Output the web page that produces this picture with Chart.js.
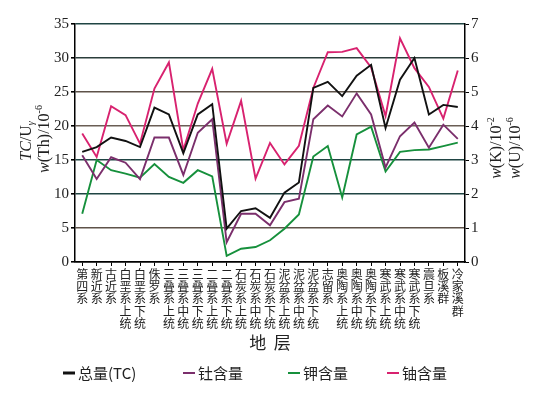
<!DOCTYPE html>
<html>
<head>
<meta charset="utf-8">
<script src="https://cdn.jsdelivr.net/npm/chart.js@4.4.1/dist/chart.umd.min.js"></script>
<style>
  html, body { margin: 0; padding: 0; background: #fff; }
  #wrap { width: 548px; height: 394px; }
</style>
</head>
<body>
<div id="wrap"><canvas id="lineChart" width="548" height="394"></canvas></div>
<script>
// 地层
const categories = ["第四系", "新近系", "古近系", "白垩系上统", "白垩系下统", "侏罗系",
  "三叠系上统", "三叠系中统", "三叠系下统", "二叠系上统", "二叠系下统",
  "石炭系上统", "石炭系中统", "石炭系下统", "泥盆系上统", "泥盆系中统", "泥盆系下统",
  "志留系", "奥陶系上统", "奥陶系中统", "奥陶系下统", "寒武系上统", "寒武系中统", "寒武系下统",
  "震旦系", "板溪群", "冷家溪群"];

// left axis (TC/Uγ, Th 10^-6)
const tcValues = [16.2, 16.9, 18.3, 17.8, 16.9, 22.7, 21.7, 16.0, 21.7, 23.2, 4.9, 7.5, 7.9, 6.5,
  10.2, 11.7, 25.6, 26.5, 24.4, 27.4, 29.0, 19.7, 26.8, 30.0, 21.7, 23.1, 22.8];
const thValues = [15.7, 12.2, 15.4, 14.6, 12.2, 18.3, 18.3, 12.8, 19.0, 21.0, 2.9, 7.1, 7.1, 5.4,
  8.8, 9.3, 21.0, 23.0, 21.4, 24.8, 21.7, 13.9, 18.5, 20.5, 16.8, 20.2, 18.1];
// right axis (K 10^-2, U 10^-6)
const kValues = [1.42, 3.0, 2.7, 2.6, 2.48, 2.88, 2.5, 2.33, 2.7, 2.52, 0.18, 0.39, 0.44, 0.64,
  0.98, 1.4, 3.1, 3.41, 1.9, 3.75, 3.98, 2.66, 3.24, 3.29, 3.31, 3.41, 3.51];
const uValues = [3.78, 3.09, 4.58, 4.32, 3.48, 5.1, 5.87, 3.29, 4.66, 5.68, 3.48, 4.74, 2.45, 3.5,
  2.87, 3.42, 5.12, 6.17, 6.18, 6.29, 5.72, 4.29, 6.58, 5.7, 5.15, 4.22, 5.63];

const seriesNames = ["总量(TC)", "钍含量", "钾含量", "铀含量"];
const leftMax = 35, rightMax = 7;

const serif = '"Liberation Serif", "Times New Roman", serif';
const cjk = '"Noto Sans CJK SC", sans-serif';

// rotated axis title with italic / super / subscript pieces
function drawRich(ctx, parts, cx, cy, size) {
  ctx.save();
  ctx.translate(cx, cy);
  ctx.rotate(-Math.PI / 2);
  const fontFor = p => (p.i ? "italic " : "") + ((p.sup || p.sub) ? Math.round(size * 0.62) : size) + "px " + serif;
  let total = 0;
  parts.forEach(p => { ctx.font = fontFor(p); p.w = ctx.measureText(p.t).width; total += p.w; });
  let x = -total / 2;
  ctx.textBaseline = "middle";
  ctx.fillStyle = "#222";
  parts.forEach(p => {
    ctx.font = fontFor(p);
    const dy = p.sup ? -size * 0.38 : p.sub ? size * 0.3 : 0;
    ctx.fillText(p.t, x, dy);
    x += p.w;
  });
  ctx.restore();
}

// axis titles + legend row under the x title
const legendX = [63, 183, 288, 387];
const extras = {
  id: "extras",
  afterDraw(chart) {
    const ctx = chart.ctx;
    drawRich(ctx, [{ t: "TC", i: true }, { t: "/U" }, { t: "γ", i: true, sub: true }], 27, 141, 16);
    drawRich(ctx, [{ t: "w", i: true }, { t: "(Th)/10" }, { t: "-6", sup: true }], 45, 139, 16);
    drawRich(ctx, [{ t: "w", i: true }, { t: "(K)/10" }, { t: "-2", sup: true }], 497, 148, 16);
    drawRich(ctx, [{ t: "w", i: true }, { t: "(U)/10" }, { t: "-6", sup: true }], 516, 148, 16);

    const y = 373;
    ctx.save();
    chart.data.datasets.forEach((ds, i) => {
      const x = legendX[i];
      ctx.strokeStyle = ds.borderColor;
      ctx.lineWidth = i === 0 ? 3 : 2;
      ctx.beginPath();
      ctx.moveTo(x, y);
      ctx.lineTo(x + 12, y);
      ctx.stroke();
      ctx.fillStyle = "#222";
      ctx.font = "15px " + cjk;
      ctx.textBaseline = "middle";
      ctx.fillText(ds.label, x + 15, y);
    });
    ctx.restore();
  }
};

const gridColors = ["#000", "#5e5249", "#1f4443", "#1f4443", "#6a5e55", "#5e5249", "#2b3d3b", "#1f4443"];

let ctx = document.getElementById("lineChart").getContext("2d");
let myChart = new Chart(ctx, {
  type: "line",
  data: {
    labels: categories.map(s => s.split("")),
    datasets: [
      { label: seriesNames[0], data: tcValues, yAxisID: "y", borderColor: "#111", backgroundColor: "#111" },
      { label: seriesNames[1], data: thValues, yAxisID: "y", borderColor: "#7b2f6c", backgroundColor: "#7b2f6c" },
      { label: seriesNames[2], data: kValues, yAxisID: "y1", borderColor: "#16903c", backgroundColor: "#16903c" },
      { label: seriesNames[3], data: uValues, yAxisID: "y1", borderColor: "#d8226f", backgroundColor: "#d8226f" }
    ]
  },
  options: {
    responsive: false,
    animation: false,
    devicePixelRatio: 1,
    layout: { padding: { top: 24, left: 0, right: 34, bottom: 39 } },
    elements: {
      line: { borderWidth: 1.9, tension: 0 },
      point: { radius: 0 }
    },
    plugins: {
      tooltip: { enabled: false },
      legend: { display: false }
    },
    scales: {
      x: {
        offset: true,
        grid: { drawOnChartArea: false, drawTicks: true, tickLength: 4, color: "#000", tickColor: "#000" },
        border: { color: "#000", width: 1.5 },
        ticks: {
          autoSkip: false, maxRotation: 0, minRotation: 0, padding: 2,
          color: "#222", font: { family: cjk, size: 12, lineHeight: 1.03 }
        },
        title: { display: true, text: "地  层", color: "#222", font: { family: cjk, size: 17 }, padding: { top: 0, bottom: 2 } },
        afterFit: s => { s.height = 93; }
      },
      y: {
        position: "left",
        min: 0, max: leftMax,
        grid: {
          color: c => gridColors[c.index % gridColors.length],
          lineWidth: 1.6, tickLength: 4, tickColor: "#000"
        },
        border: { color: "#000", width: 1.5 },
        ticks: { stepSize: 5, padding: 2, color: "#222", font: { family: serif, size: 15 } },
        afterFit: s => { s.width = 75; }
      },
      y1: {
        position: "right",
        min: 0, max: rightMax,
        grid: { drawOnChartArea: false, tickLength: 4, tickColor: "#000", color: "#000" },
        border: { color: "#000", width: 1.5 },
        ticks: { stepSize: 1, padding: 2, color: "#222", font: { family: serif, size: 15 } },
        afterFit: s => { s.width = 49; }
      }
    }
  },
  plugins: [extras]
});
</script>
</body>
</html>
